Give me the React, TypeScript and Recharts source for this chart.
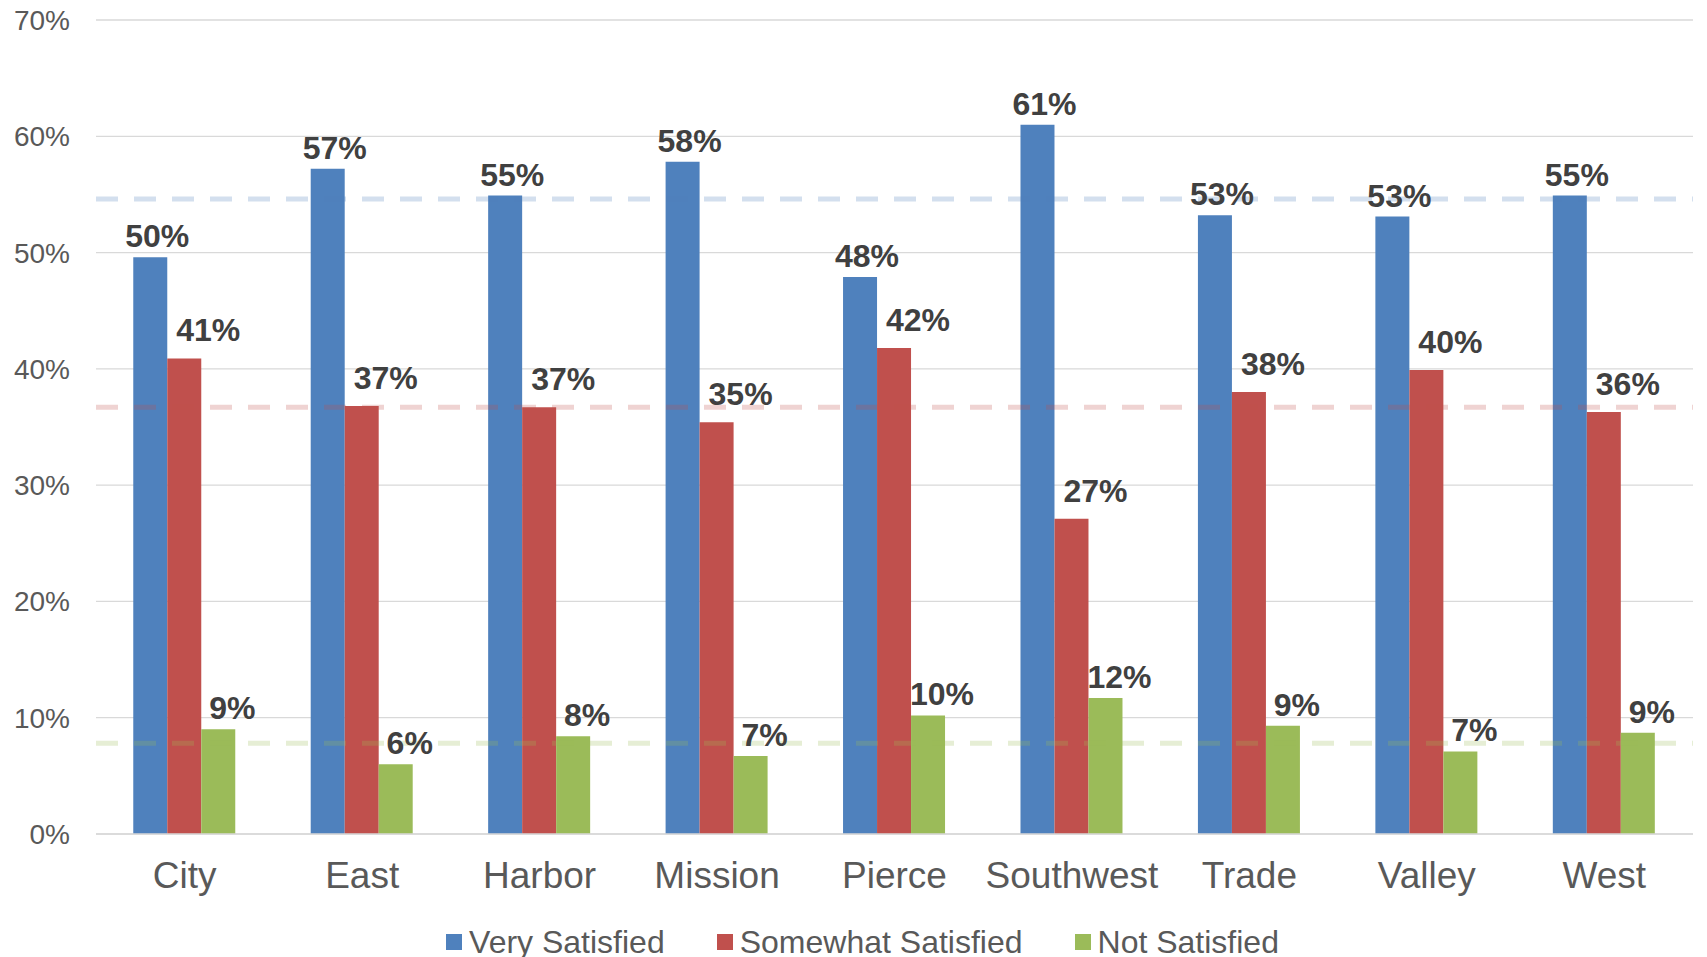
import {
  BarChart,
  Bar,
  XAxis,
  YAxis,
  CartesianGrid,
  ReferenceLine,
  LabelList,
  Legend,
} from "recharts";

const campuses = ["City", "East", "Harbor", "Mission", "Pierce", "Southwest", "Trade", "Valley", "West"];
const verySatisfied = [49.6, 57.2, 54.9, 57.8, 47.9, 61.0, 53.2, 53.1, 54.9];
const somewhatSatisfied = [40.9, 36.8, 36.7, 35.4, 41.8, 27.1, 38.0, 39.9, 36.3];
const notSatisfied = [9.0, 6.0, 8.4, 6.7, 10.2, 11.7, 9.3, 7.1, 8.7];
const averages = [54.6, 36.7, 7.8];
const yTicks = [0, 10, 20, 30, 40, 50, 60, 70];

const seriesNames = ["Very Satisfied", "Somewhat Satisfied", "Not Satisfied"];
const colors = ["#4f81bd", "#c0504d", "#9bbb59"];
const font = "'Liberation Sans', Arial, sans-serif";

const data = campuses.map((name, i) => ({
  name,
  very: verySatisfied[i],
  somewhat: somewhatSatisfied[i],
  not: notSatisfied[i],
}));

const makeLabel = (dx: number, dy: number) => (props: any) => {
  const { x, y, width, value } = props;
  return (
    <text
      x={Number(x) + Number(width) / 2 + dx}
      y={Number(y) - dy}
      textAnchor="middle"
      fontFamily={font}
      fontWeight="bold"
      fontSize={32}
      fill="#404040"
    >
      {Math.round(value)}%
    </text>
  );
};

const LegendBox = () => (
  <div
    style={{
      display: "flex",
      justifyContent: "center",
      alignItems: "center",
      height: 40,
      paddingLeft: 18,
      fontFamily: font,
      fontSize: 32,
      color: "#595959",
    }}
  >
    {seriesNames.map((s, i) => (
      <div key={s} style={{ display: "flex", alignItems: "center", marginRight: i < 2 ? 52 : 0 }}>
        <span style={{ width: 16, height: 16, background: colors[i], marginRight: 7 }} />
        <span>{s}</span>
      </div>
    ))}
  </div>
);

export default function App() {
  return (
    <div style={{ position: "absolute", left: 0, top: 0, width: 1707, height: 957, background: "#fff" }}>
      <BarChart
        width={1707}
        height={957}
        data={data}
        margin={{ top: 20, right: 14, left: 0, bottom: 63 }}
        barCategoryGap="21%"
        barGap={0}
      >
        <CartesianGrid vertical={false} stroke="#d9d9d9" strokeWidth={1.3} />
        <XAxis
          dataKey="name"
          height={60}
          axisLine={{ stroke: "#d9d9d9", strokeWidth: 1.5 }}
          tickLine={false}
          tickSize={0}
          tickMargin={28}
          tick={{ fontFamily: font, fontSize: 37, fill: "#595959" }}
        />
        <YAxis
          width={96}
          domain={[0, 70]}
          ticks={yTicks}
          axisLine={false}
          tickLine={false}
          tickSize={0}
          tickMargin={26}
          tickFormatter={(v) => `${v}%`}
          tick={{ fontFamily: font, fontSize: 28, fill: "#595959" }}
        />
        <Bar dataKey="very" fill={colors[0]} isAnimationActive={false}>
          <LabelList dataKey="very" content={makeLabel(7, 10)} />
        </Bar>
        <Bar dataKey="somewhat" fill={colors[1]} isAnimationActive={false}>
          <LabelList dataKey="somewhat" content={makeLabel(24, 17)} />
        </Bar>
        <Bar dataKey="not" fill={colors[2]} isAnimationActive={false}>
          <LabelList dataKey="not" content={makeLabel(14, 10)} />
        </Bar>
        {averages.map((v, i) => (
          <ReferenceLine
            key={i}
            y={v}
            stroke={colors[i]}
            strokeOpacity={0.25}
            strokeWidth={5}
            strokeDasharray="22 16"
          />
        ))}
        <Legend
          verticalAlign="middle"
          layout="horizontal"
          align="center"
          wrapperStyle={{ top: 922, left: 0, width: 1707 }}
          content={<LegendBox />}
        />
      </BarChart>
    </div>
  );
}
